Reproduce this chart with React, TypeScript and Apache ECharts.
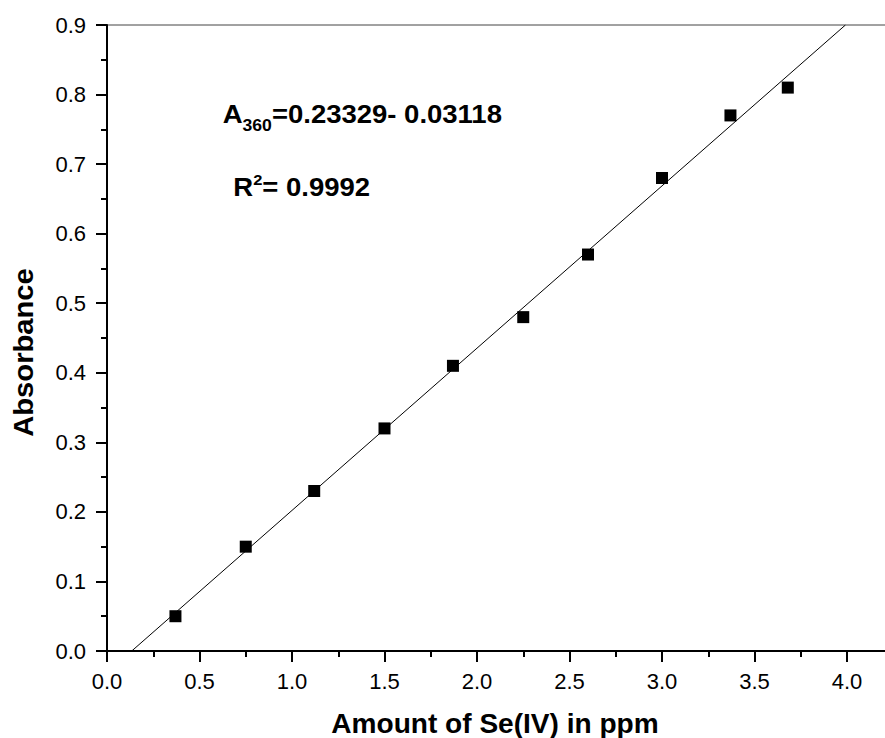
import React, { useEffect, useRef } from "react";
import * as echarts from "echarts";

// Amount of Se(IV) in ppm
const X_VALUES = [0.37, 0.75, 1.12, 1.5, 1.87, 2.25, 2.6, 3.0, 3.37, 3.68];
// Absorbance
const Y_VALUES = [0.05, 0.15, 0.23, 0.32, 0.41, 0.48, 0.57, 0.68, 0.77, 0.81];
// Linear fit A = slope * C + intercept
const FIT_SLOPE = 0.23329;
const FIT_INTERCEPT = -0.03118;
const Y_MIN = 0;
const Y_MAX = 0.9;

const X_TITLE = "Amount of Se(IV) in ppm";
const Y_TITLE = "Absorbance";

const FONT = "'Liberation Sans', Arial, Helvetica, sans-serif";

export default function App() {
  const ref = useRef<HTMLDivElement>(null);

  useEffect(() => {
    if (!ref.current) return;
    const chart = echarts.init(ref.current, null, { renderer: "svg" });
    const points = X_VALUES.map((x, i) => [x, Y_VALUES[i]]);
    const fitLine = [
      [(Y_MIN - FIT_INTERCEPT) / FIT_SLOPE, Y_MIN],
      [(Y_MAX - FIT_INTERCEPT) / FIT_SLOPE, Y_MAX],
    ];

    chart.setOption({
      animation: false,
      backgroundColor: "#ffffff",
      textStyle: { fontFamily: FONT },
      grid: {
        left: 107,
        top: 25,
        width: 832.5,
        height: 626,
        containLabel: false,
        outerBoundsMode: "none",
        show: true,
        borderColor: "#444444",
        borderWidth: 1,
        backgroundColor: "transparent",
      },
      xAxis: {
        type: "value",
        min: 0,
        max: 4.5,
        interval: 0.5,
        axisLine: { show: true, onZero: false, lineStyle: { color: "#000", width: 2 } },
        axisTick: { show: true, inside: false, length: 11, lineStyle: { color: "#000", width: 2 } },
        minorTick: { show: true, splitNumber: 2, length: 6, lineStyle: { color: "#000", width: 2 } },
        splitLine: { show: false },
        axisLabel: {
          showMaxLabel: false,
          margin: 19,
          fontSize: 22,
          color: "#000",
          fontFamily: FONT,
          formatter: (v: number) => v.toFixed(1),
        },
      },
      yAxis: {
        type: "value",
        min: Y_MIN,
        max: Y_MAX,
        interval: 0.1,
        axisLine: { show: true, onZero: false, lineStyle: { color: "#000", width: 2 } },
        axisTick: { show: true, inside: false, length: 11, lineStyle: { color: "#000", width: 2 } },
        minorTick: { show: true, splitNumber: 2, length: 6, lineStyle: { color: "#000", width: 2 } },
        splitLine: { show: false },
        axisLabel: {
          margin: 21,
          fontSize: 22,
          color: "#000",
          fontFamily: FONT,
          formatter: (v: number) => v.toFixed(1),
        },
      },
      series: [
        {
          type: "line",
          data: fitLine,
          showSymbol: false,
          symbol: "none",
          lineStyle: { color: "#000", width: 1 },
          silent: true,
          z: 2,
        },
        {
          type: "scatter",
          data: points,
          symbol: "rect",
          symbolSize: 12,
          itemStyle: { color: "#000", opacity: 1 },
          z: 3,
        },
      ],
      graphic: [
        {
          type: "text",
          x: 495,
          y: 724,
          scaleX: 1.04,
          style: {
            text: X_TITLE,
            fontSize: 27,
            fontWeight: "bold",
            fontFamily: FONT,
            fill: "#000",
            align: "center",
            verticalAlign: "middle",
          },
        },
        {
          type: "text",
          x: 23.5,
          y: 352.5,
          rotation: Math.PI / 2,
          scaleX: 1.08,
          style: {
            text: Y_TITLE,
            fontSize: 27,
            fontWeight: "bold",
            fontFamily: FONT,
            fill: "#000",
            align: "center",
            verticalAlign: "middle",
          },
        },
        {
          type: "text",
          x: 222.7,
          y: 114,
          scaleX: 1.1,
          style: {
            text: "{a|A}{s|360}{a|=0.23329- 0.03118}",
            fontFamily: FONT,
            fill: "#000",
            align: "left",
            verticalAlign: "middle",
            rich: {
              a: { fontSize: 25, fontWeight: "bold", fontFamily: FONT, lineHeight: 40, verticalAlign: "middle", fill: "#000" },
              s: { fontSize: 16, fontWeight: "bold", fontFamily: FONT, lineHeight: 16, verticalAlign: "bottom", fill: "#000" },
            },
          },
        },
        {
          type: "text",
          x: 233.3,
          y: 187,
          scaleX: 1.1,
          style: {
            text: "{a|R}{s|2}{a|= 0.9992}",
            fontFamily: FONT,
            fill: "#000",
            align: "left",
            verticalAlign: "middle",
            rich: {
              a: { fontSize: 25, fontWeight: "bold", fontFamily: FONT, lineHeight: 30, verticalAlign: "middle", fill: "#000" },
              s: { fontSize: 15, fontWeight: "bold", fontFamily: FONT, lineHeight: 14, verticalAlign: "top", fill: "#000" },
            },
          },
        },
      ],
    });

    return () => chart.dispose();
  }, []);

  return (
    <div
      ref={ref}
      style={{ position: "fixed", left: 0, top: 0, width: 885, height: 738, background: "#fff" }}
    />
  );
}
